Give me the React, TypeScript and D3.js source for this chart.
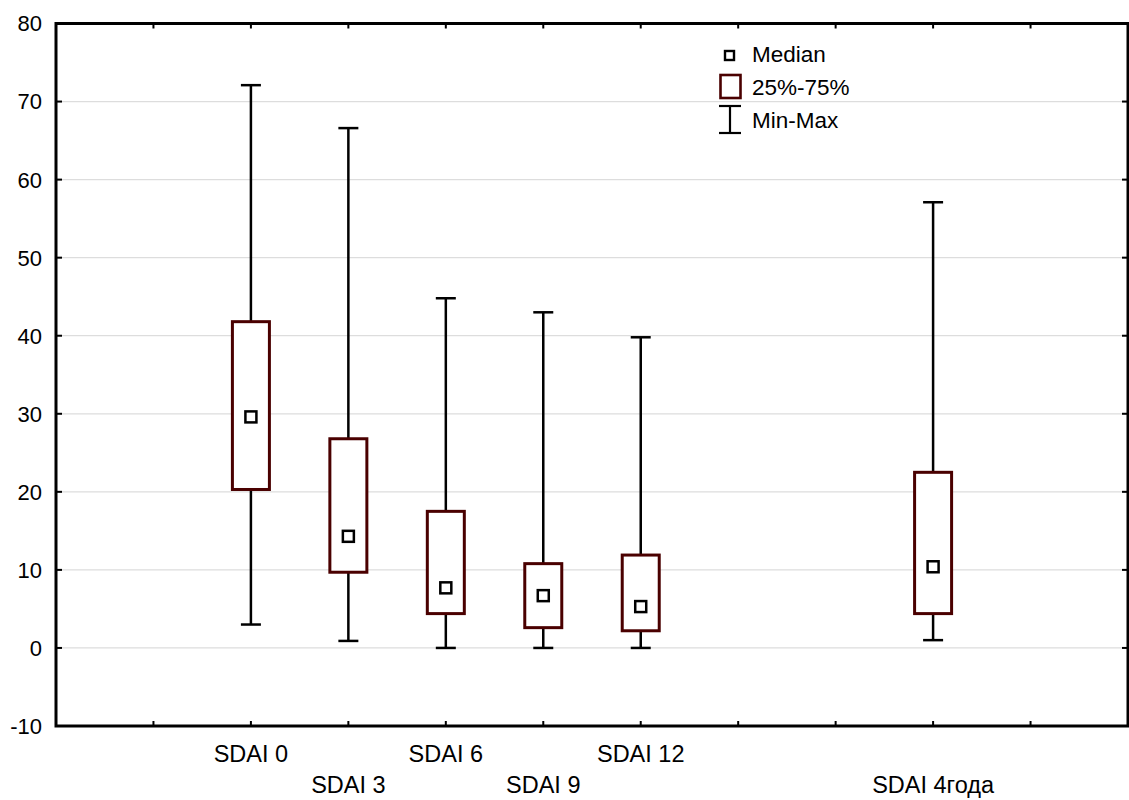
import React from "react";
import * as d3 from "d3";

// box plot data
const categories = ["SDAI 0", "SDAI 3", "SDAI 6", "SDAI 9", "SDAI 12", "SDAI 4года"];
const slots = [2, 3, 4, 5, 6, 9];
const mins = [3, 0.9, 0, 0, 0, 1];
const q1s = [20.3, 9.7, 4.4, 2.6, 2.2, 4.4];
const medians = [29.6, 14.3, 7.7, 6.7, 5.3, 10.4];
const q3s = [41.8, 26.8, 17.5, 10.8, 11.9, 22.5];
const maxs = [72.1, 66.6, 44.8, 43, 39.8, 57.1];
const yTicks = [-10, 0, 10, 20, 30, 40, 50, 60, 70, 80];
const xTicks = [1, 2, 3, 4, 5, 6, 7, 8, 9, 10];

const width = 1129;
const height = 800;
const left = 56;
const right = 1128;
const top = 23.5;
const bottom = 726;

const font = "'Liberation Sans', Arial, sans-serif";
const boxColor = "#4a0000";

const App = () => {
  var x = d3.scaleLinear().domain([0, 11]).range([left, right]);
  var y = d3.scaleLinear().domain([-10, 80]).range([bottom, top]);

  const boxW = 37;
  const capW = 20;
  const medS = 11;

  return (
    <svg
      width={width}
      height={height}
      style={{ position: "absolute", left: 0, top: 0, background: "#fff" }}
      fontFamily={font}
    >
      {/* grid */}
      {yTicks.slice(1, -1).map((t) => (
        <line key={"g" + t} x1={left} x2={right} y1={y(t)} y2={y(t)} stroke="#dddddd" strokeWidth={1.3} />
      ))}

      {/* boxes */}
      {categories.map((c, i) => {
        const cx = x(slots[i]);
        return (
          <g key={c}>
            <line x1={cx} x2={cx} y1={y(maxs[i])} y2={y(q3s[i])} stroke="#000" strokeWidth={2.5} />
            <line x1={cx} x2={cx} y1={y(q1s[i])} y2={y(mins[i])} stroke="#000" strokeWidth={2.5} />
            <line x1={cx - capW / 2} x2={cx + capW / 2} y1={y(maxs[i])} y2={y(maxs[i])} stroke="#000" strokeWidth={2.5} />
            <line x1={cx - capW / 2} x2={cx + capW / 2} y1={y(mins[i])} y2={y(mins[i])} stroke="#000" strokeWidth={2.5} />
            <rect
              x={cx - boxW / 2}
              y={y(q3s[i])}
              width={boxW}
              height={y(q1s[i]) - y(q3s[i])}
              fill="#fff"
              stroke={boxColor}
              strokeWidth={3}
            />
            <rect
              x={cx - medS / 2}
              y={y(medians[i]) - medS / 2}
              width={medS}
              height={medS}
              fill="#fff"
              stroke="#000"
              strokeWidth={2.5}
            />
          </g>
        );
      })}

      {/* frame */}
      <rect x={left} y={top} width={right - left} height={bottom - top} fill="none" stroke="#000" strokeWidth={3} />

      {/* y ticks */}
      {yTicks.map((t) => (
        <g key={"y" + t}>
          <line x1={left} x2={left + 6} y1={y(t)} y2={y(t)} stroke="#000" strokeWidth={2} />
          <line x1={right - 6} x2={right} y1={y(t)} y2={y(t)} stroke="#000" strokeWidth={2} />
          <text x={42} y={y(t)} dy="0.36em" textAnchor="end" fontSize={22} fill="#000">
            {t}
          </text>
        </g>
      ))}

      {/* x ticks */}
      {xTicks.map((t) => (
        <g key={"x" + t}>
          <line x1={x(t)} x2={x(t)} y1={bottom} y2={bottom - 5} stroke="#000" strokeWidth={2} />
          <line x1={x(t)} x2={x(t)} y1={top} y2={top + 5} stroke="#000" strokeWidth={2} />
        </g>
      ))}

      {/* category labels, staggered */}
      {categories.map((c, i) => (
        <text
          key={"l" + c}
          x={x(slots[i])}
          y={i % 2 === 0 ? 762 : 793}
          textAnchor="middle"
          fontSize={23.5}
          fill="#000"
        >
          {c}
        </text>
      ))}

      {/* legend */}
      <g fontSize={22.5} fill="#000">
        <rect x={725} y={51} width={9} height={9} fill="#fff" stroke="#000" strokeWidth={2.4} />
        <text x={752} y={62}>Median</text>
        <rect x={720.5} y={75} width={20} height={23} fill="#fff" stroke={boxColor} strokeWidth={2.6} />
        <text x={752} y={95}>25%-75%</text>
        <line x1={730} x2={730} y1={106} y2={133} stroke="#000" strokeWidth={2.2} />
        <line x1={719} x2={741} y1={106} y2={106} stroke="#000" strokeWidth={2.2} />
        <line x1={719} x2={741} y1={133} y2={133} stroke="#000" strokeWidth={2.2} />
        <text x={752} y={128}>Min-Max</text>
      </g>
    </svg>
  );
};

export default App;
